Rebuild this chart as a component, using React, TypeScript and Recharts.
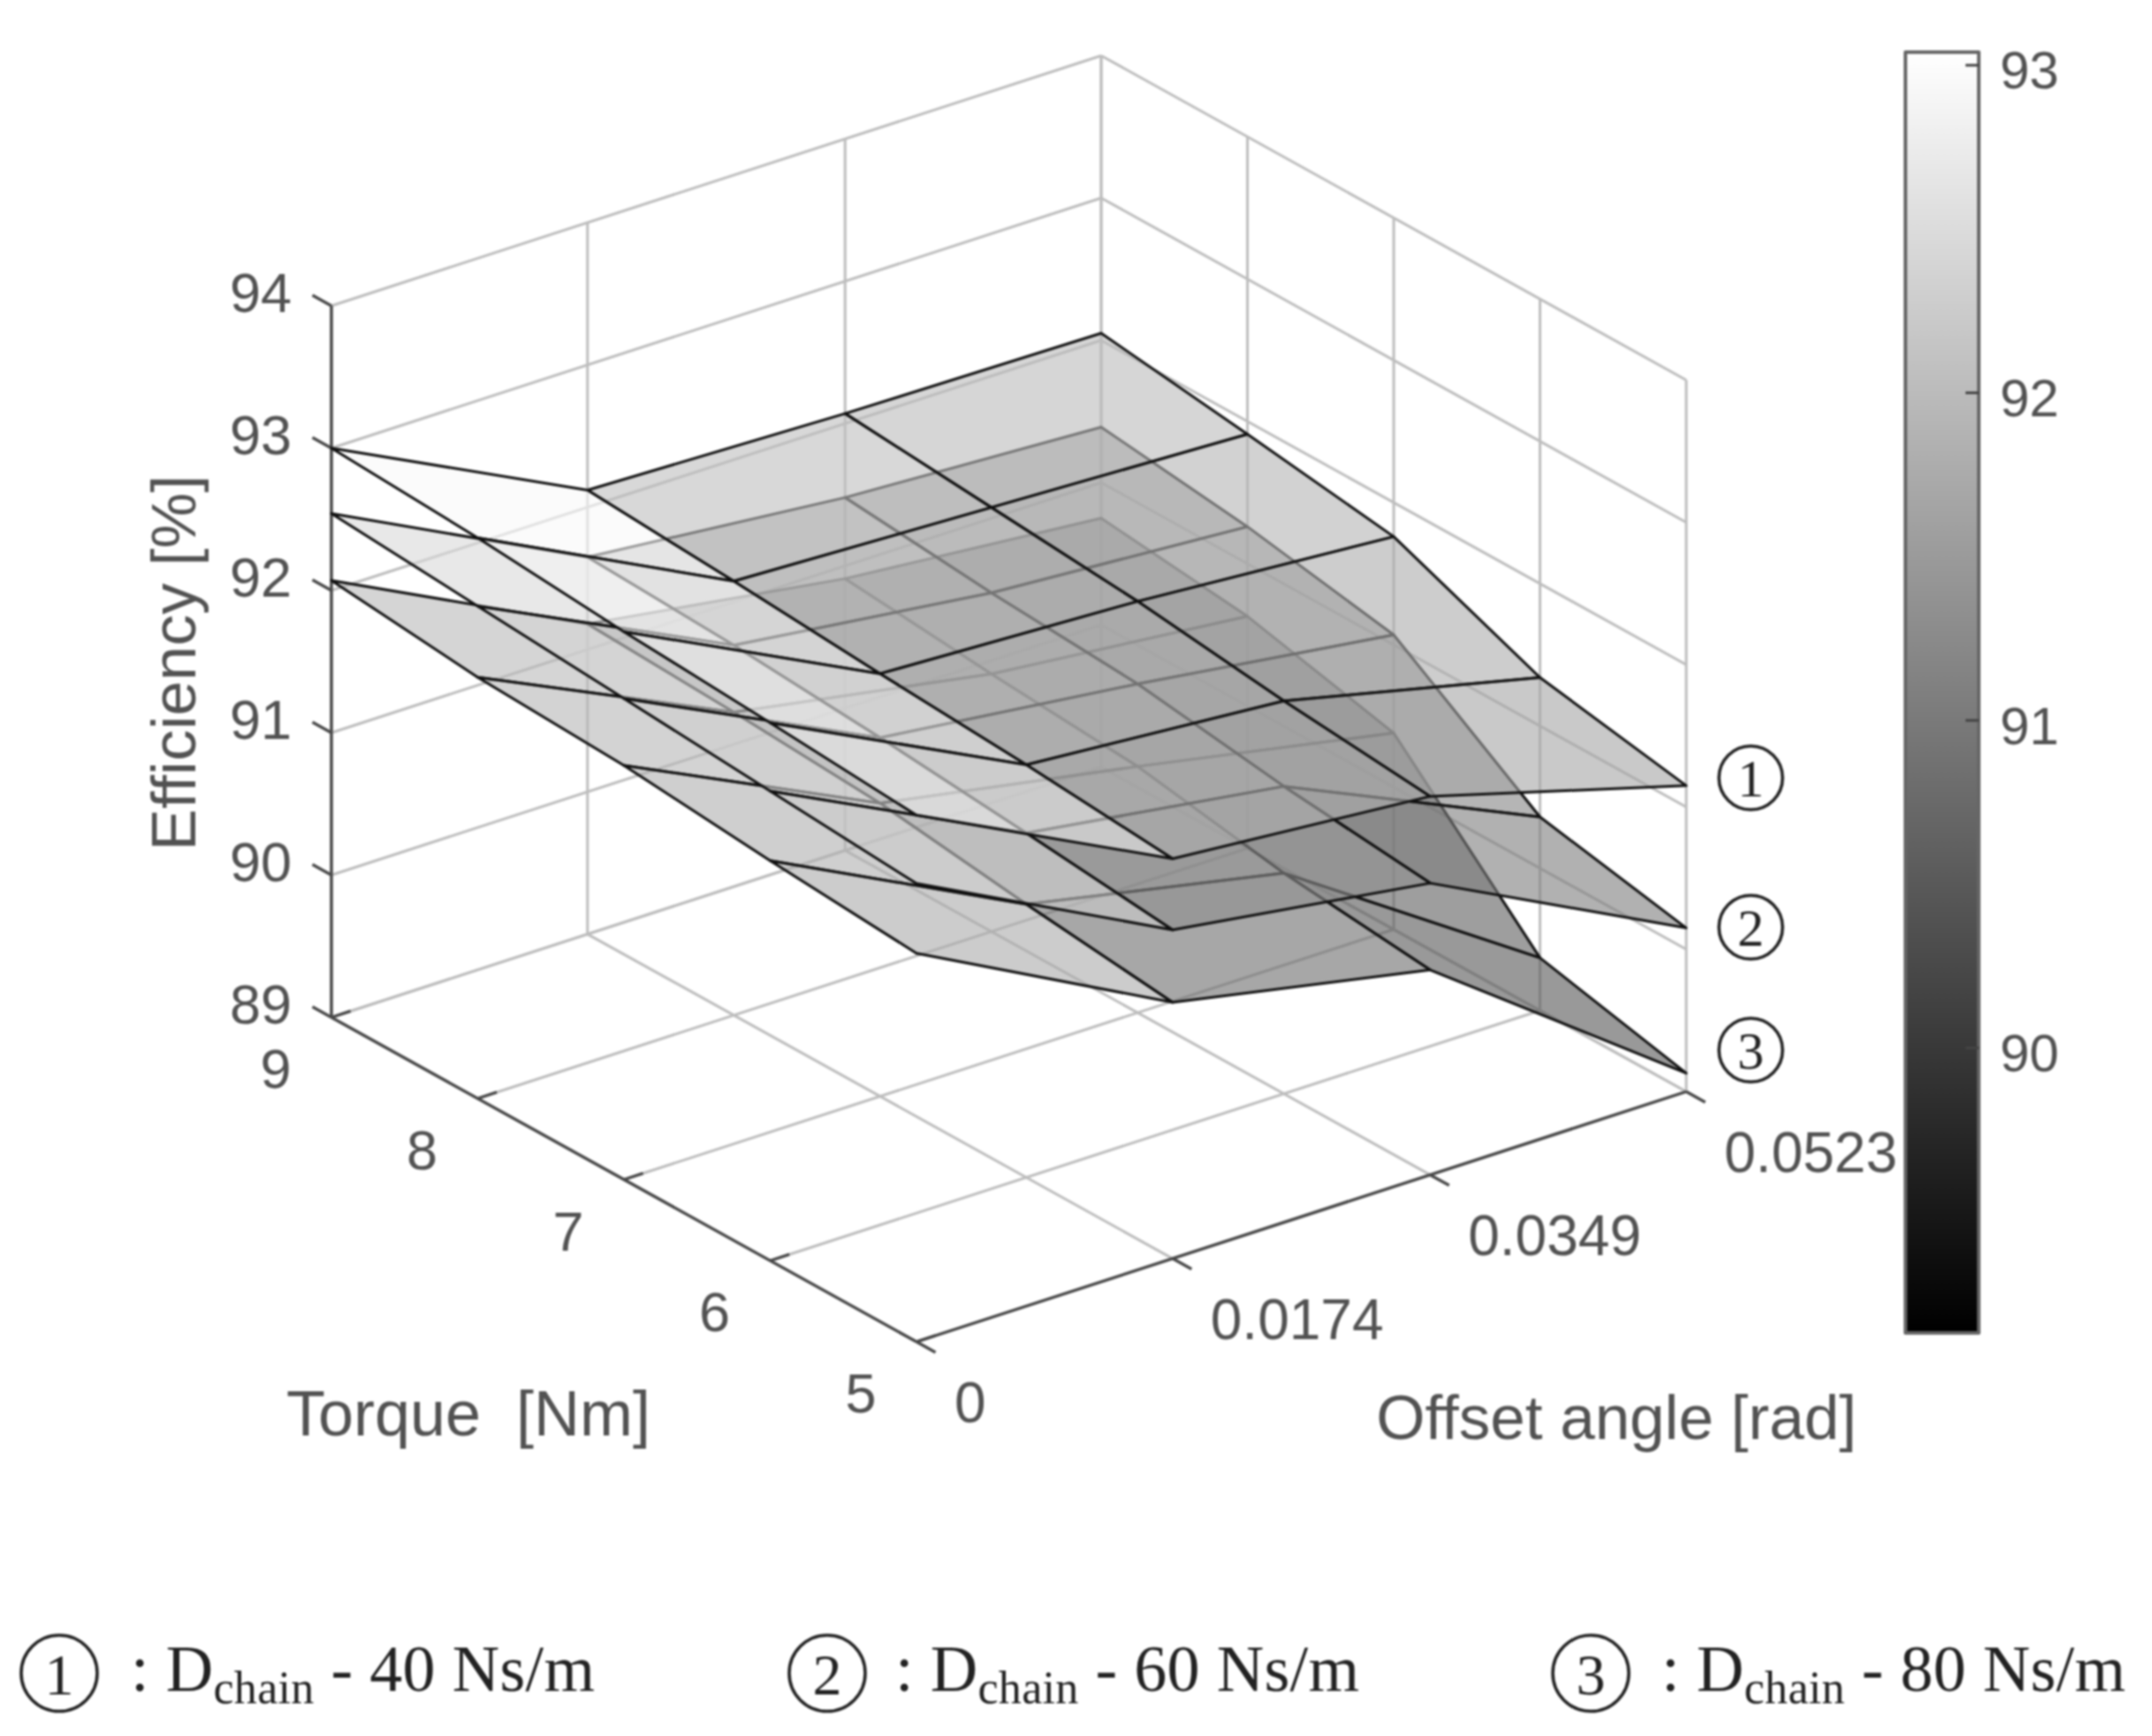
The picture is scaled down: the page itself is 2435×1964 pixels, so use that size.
import { Scatter, ScatterChart, XAxis, YAxis } from "recharts"

const torqueValues = [5, 6, 7, 8, 9]
const offsetValues = [0, 0.0174, 0.0349, 0.0523]
const efficiencyTicks = [89, 90, 91, 92, 93, 94]
const colorbarTicks = [90, 91, 92, 93]
const legendDampings = [40, 60, 80]

// rows follow torqueValues, columns follow offsetValues
const surface40 = [
    [92.7, 91.81, 91.66, 91.15],
    [92.78, 91.9, 91.76, 91.34],
    [92.85, 91.97, 91.89, 91.76],
    [92.94, 92.05, 91.98, 91.91],
    [93.0, 92.12, 92.07, 92.05],
]
const surface60 = [
    [92.22, 91.31, 91.05, 90.15],
    [92.3, 91.42, 91.16, 90.36],
    [92.38, 91.52, 91.31, 91.07],
    [92.46, 91.6, 91.38, 91.26],
    [92.54, 91.65, 91.48, 91.39],
]
const surface80 = [
    [91.73, 90.8, 90.44, 89.13],
    [91.81, 90.92, 90.55, 89.37],
    [91.91, 91.06, 90.73, 90.38],
    [91.96, 91.13, 90.81, 90.63],
    [92.07, 91.18, 90.91, 90.75],
]

const WIDTH = 2435
const HEIGHT = 1964
const COLOR_MIN = 89.13
const COLOR_MAX = 93.04
const SANS = "'Liberation Sans', Arial, sans-serif"
const SERIF = "'Liberation Serif', serif"
const TEXT_COLOR = "#525252"

// fixed MATLAB style view of the 3D box
const project = (torque: number, offset: number, efficiency: number) => ({
    x: 1037 - ((torque - 5) / 4) * 662 + (offset / 0.0523) * 871,
    y: 1518 - ((torque - 5) / 4) * 367 - (offset / 0.0523) * 283 - (efficiency - 89) * 161,
})

const grayFor = (value: number) => {
    const t = Math.min(1, Math.max(0, (value - COLOR_MIN) / (COLOR_MAX - COLOR_MIN)))
    const g = Math.round(t * 255)
    return `rgb(${g},${g},${g})`
}

type Pt = { x: number; y: number }
type PathStyle = { fill?: string; fillOpacity?: number; stroke?: string; strokeWidth?: number; closed?: boolean }

const NoMark = () => null

const pathLine = (style: PathStyle) => (props: any) => {
    const d = props.points.map((p: Pt, i: number) => `${i === 0 ? "M" : "L"}${p.x},${p.y}`).join(" ")
    return (
        <path
            d={style.closed ? `${d} Z` : d}
            fill={style.fill ?? "none"}
            fillOpacity={style.fillOpacity ?? 1}
            stroke={style.stroke ?? "none"}
            strokeWidth={style.strokeWidth ?? 0}
            strokeLinejoin="round"
        />
    )
}

const Poly = (key: string, points: Pt[], style: PathStyle) => (
    <Scatter
        key={key}
        data={points}
        dataKey="y"
        shape={NoMark}
        line={pathLine(style) as any}
        isAnimationActive={false}
    />
)

const Label = (
    key: string,
    at: Pt,
    text: string,
    opts: { size: number; anchor?: string; rotate?: number; color?: string; family?: string },
) => (
    <Scatter
        key={key}
        data={[at]}
        dataKey="y"
        isAnimationActive={false}
        shape={(p: any) => (
            <text
                x={p.cx}
                y={p.cy}
                fontFamily={opts.family ?? SANS}
                fontSize={opts.size}
                fill={opts.color ?? TEXT_COLOR}
                textAnchor={opts.anchor ?? "middle"}
                dominantBaseline="central"
                transform={opts.rotate ? `rotate(${opts.rotate} ${p.cx} ${p.cy})` : undefined}
            >
                {text}
            </text>
        )}
    />
)

const Circled = (key: string, at: Pt, digit: number, r: number, size: number) => (
    <Scatter
        key={key}
        data={[at]}
        dataKey="y"
        isAnimationActive={false}
        shape={(p: any) => (
            <g>
                <circle cx={p.cx} cy={p.cy} r={r} fill="#fff" stroke="#222" strokeWidth={3.6} />
                <text
                    x={p.cx}
                    y={p.cy + 1}
                    fontFamily={SERIF}
                    fontSize={size}
                    fill="#222"
                    textAnchor="middle"
                    dominantBaseline="central"
                >
                    {digit}
                </text>
            </g>
        )}
    />
)

const LegendText = (key: string, at: Pt, damping: number) => (
    <Scatter
        key={key}
        data={[at]}
        dataKey="y"
        isAnimationActive={false}
        shape={(p: any) => (
            <text x={p.cx} y={p.cy} fontFamily={SERIF} fontSize={74} fill="#222" textLength={525}>
                <tspan>: D</tspan>
                <tspan fontSize={52} dy={14}>chain</tspan>
                <tspan dy={-14}>{` - ${damping} Ns/m`}</tspan>
            </text>
        )}
    />
)

const gridSeries = () => {
    const grid = { stroke: "#bdbdbd", strokeWidth: 3 }
    const items: any[] = []
    const t0 = torqueValues[0]
    const t1 = torqueValues[4]
    const o1 = offsetValues[3]
    efficiencyTicks.forEach((z) => {
        items.push(Poly(`back-z${z}`, [project(t1, 0, z), project(t1, o1, z)], grid))
        items.push(Poly(`side-z${z}`, [project(t1, o1, z), project(t0, o1, z)], grid))
    })
    offsetValues.forEach((o) => {
        items.push(Poly(`back-o${o}`, [project(t1, o, 89), project(t1, o, 94)], grid))
        items.push(Poly(`floor-o${o}`, [project(t0, o, 89), project(t1, o, 89)], grid))
    })
    torqueValues.forEach((t) => {
        items.push(Poly(`side-t${t}`, [project(t, o1, 89), project(t, o1, 94)], grid))
        items.push(Poly(`floor-t${t}`, [project(t, 0, 89), project(t, o1, 89)], grid))
    })
    return items
}

const axisSeries = () => {
    const axis = { stroke: "#484848", strokeWidth: 3.4 }
    const t0 = torqueValues[0]
    const t1 = torqueValues[4]
    const o1 = offsetValues[3]
    const items: any[] = [
        Poly("axis-z", [project(t1, 0, 89), project(t1, 0, 94)], axis),
        Poly("axis-t", [project(t1, 0, 89), project(t0, 0, 89)], axis),
        Poly("axis-o", [project(t0, 0, 89), project(t0, o1, 89)], axis),
    ]
    efficiencyTicks.forEach((z) => {
        items.push(Poly(`tick-z${z}`, [project(t1, 0, z), project(t1 + 0.13, 0, z)], axis))
        const at = project(t1, 0, z)
        items.push(Label(`label-z${z}`, { x: at.x - 80, y: at.y - 15 }, String(z), { size: 63 }))
    })
    torqueValues.forEach((t) => {
        items.push(Poly(`tick-t${t}`, [project(t, 0, 89), project(t, 0.0013, 89)], axis))
        const at = project(t, 0, 89)
        items.push(Label(`label-t${t}`, { x: at.x - 63, y: at.y + 58 }, String(t), { size: 63 }))
    })
    offsetValues.forEach((o) => {
        items.push(Poly(`tick-o${o}`, [project(t0, o, 89), project(t0 - 0.13, o, 89)], axis))
        const at = project(t0, o, 89)
        items.push(Label(`label-o${o}`, { x: at.x + 43, y: at.y + 69 }, String(o), { size: 64, anchor: "start" }))
    })
    return items
}

const surfaceSeries = (name: string, rows: number[][]) => {
    const items: any[] = []
    for (let k = torqueValues.length - 2; k >= 0; k--) {
        for (let i = offsetValues.length - 2; i >= 0; i--) {
            const corners = [
                project(torqueValues[k], offsetValues[i], rows[k][i]),
                project(torqueValues[k], offsetValues[i + 1], rows[k][i + 1]),
                project(torqueValues[k + 1], offsetValues[i + 1], rows[k + 1][i + 1]),
                project(torqueValues[k + 1], offsetValues[i], rows[k + 1][i]),
            ]
            items.push(
                Poly(`${name}-${k}-${i}`, corners, {
                    fill: grayFor(rows[k][i]),
                    fillOpacity: 0.6,
                    stroke: "#111111",
                    strokeWidth: 3,
                    closed: true,
                }),
            )
        }
    }
    return items
}

const colorbarSeries = () => {
    const left = 2156
    const right = 2239
    const top = 59
    const bottom = 1508
    const yFor = (v: number) => top + ((COLOR_MAX - v) / (COLOR_MAX - COLOR_MIN)) * (bottom - top)
    const items: any[] = [
        Poly(
            "colorbar",
            [
                { x: left, y: top },
                { x: right, y: top },
                { x: right, y: bottom },
                { x: left, y: bottom },
            ],
            { fill: "url(#colorbarFill)", stroke: "#666", strokeWidth: 4, closed: true },
        ),
    ]
    colorbarTicks.forEach((v) => {
        const y = yFor(v)
        items.push(Poly(`cb-tick-${v}`, [{ x: right - 15, y }, { x: right, y }], { stroke: "#444", strokeWidth: 3 }))
        items.push(Label(`cb-label-${v}`, { x: 2263, y: y + 6 }, String(v), { size: 60, anchor: "start" }))
    })
    return items
}

const App = () => (
    <div style={{ position: "absolute", left: 0, top: 0, width: WIDTH, height: HEIGHT, background: "#fff", filter: "blur(1px)" }}>
        <ScatterChart width={WIDTH} height={HEIGHT} margin={{ top: 0, right: 0, bottom: 0, left: 0 }}>
            <defs>
                <linearGradient id="colorbarFill" x1="0" y1="0" x2="0" y2="1">
                    <stop offset="0%" stopColor="#ffffff" />
                    <stop offset="100%" stopColor="#000000" />
                </linearGradient>
            </defs>
            <XAxis type="number" dataKey="x" domain={[0, WIDTH]} hide />
            <YAxis type="number" dataKey="y" domain={[0, HEIGHT]} reversed hide />
            {gridSeries()}
            {axisSeries()}
            {surfaceSeries("s80", surface80)}
            {surfaceSeries("s60", surface60)}
            {surfaceSeries("s40", surface40)}
            {colorbarSeries()}
            {Label("title-z", { x: 196, y: 750 }, "Efficiency [%]", { size: 71, rotate: -90 })}
            {Label("title-t", { x: 530, y: 1599 }, "Torque\u00a0\u00a0[Nm]", { size: 72 })}
            {Label("title-o", { x: 1829, y: 1603 }, "Offset angle [rad]", { size: 71 })}
            {Circled("mark-1", { x: 1981, y: 880 }, 1, 36, 60)}
            {Circled("mark-2", { x: 1981, y: 1049 }, 2, 36, 60)}
            {Circled("mark-3", { x: 1981, y: 1188 }, 3, 36, 60)}
            {legendDampings.map((d, i) => Circled(`legend-mark-${d}`, { x: [67, 936, 1800][i], y: 1893 }, i + 1, 43, 66))}
            {legendDampings.map((d, i) => LegendText(`legend-${d}`, { x: [148, 1013, 1880][i], y: 1913 }, d))}
        </ScatterChart>
    </div>
)

export default App
